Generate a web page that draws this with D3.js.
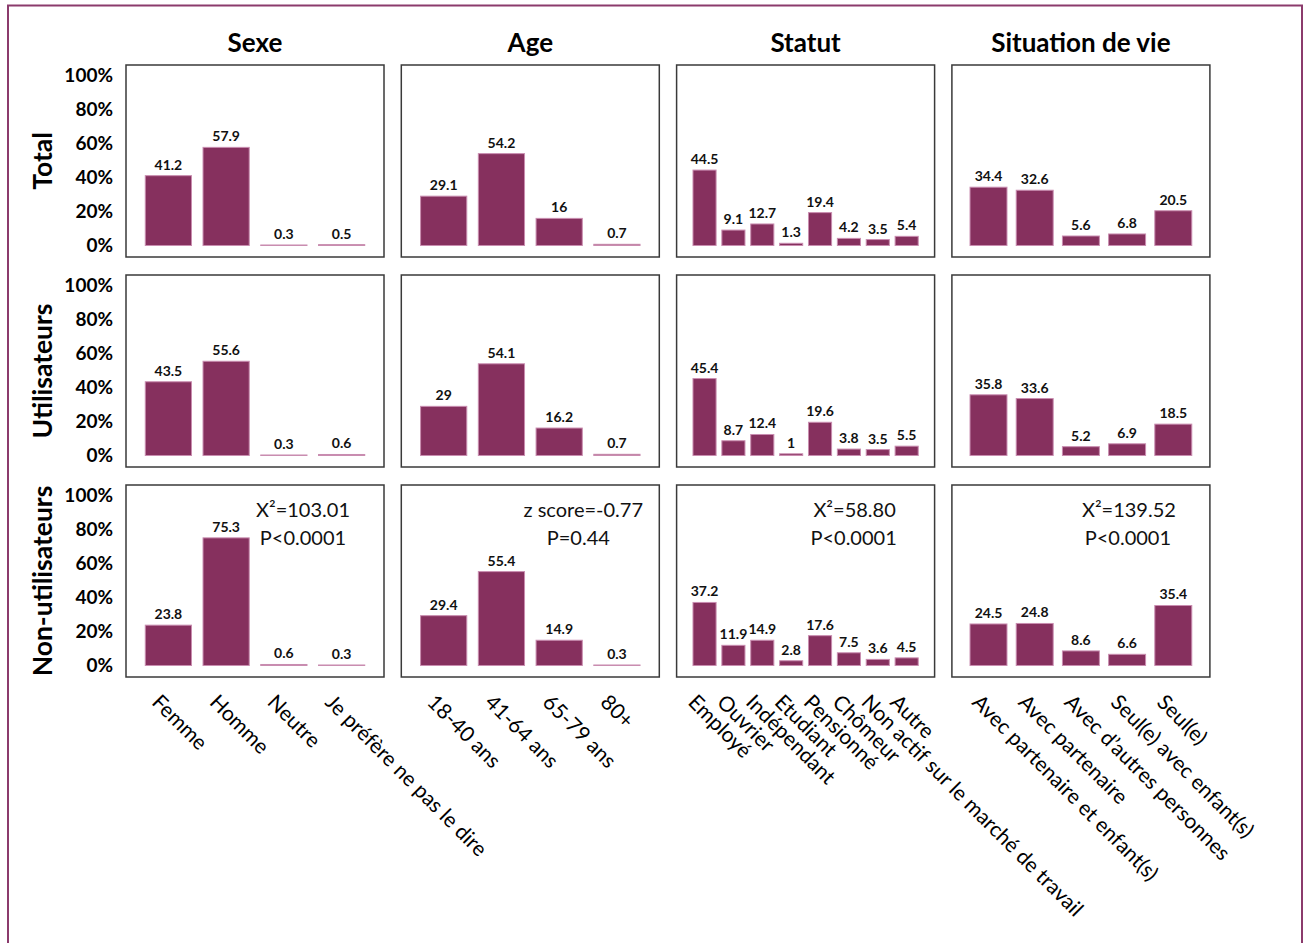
<!DOCTYPE html>
<html>
<head>
<meta charset="utf-8">
<script src="https://cdn.jsdelivr.net/npm/d3@7"></script>
<style>
  html, body { margin: 0; padding: 0; background: #fff; }
  svg { display: block; font-family: Lato, "Open Sans", sans-serif; }
</style>
</head>
<body>
<svg id="chart" width="1304" height="943"></svg>
<script>
// Column groups and their categories
const groupTitles = ["Sexe", "Age", "Statut", "Situation de vie"];
const rowTitles = ["Total", "Utilisateurs", "Non-utilisateurs"];

const sexeCategories = ["Femme", "Homme", "Neutre", "Je préfère ne pas le dire"];
const ageCategories = ["18-40 ans", "41-64 ans", "65-79 ans", "80+"];
const statutCategories = ["Employé", "Ouvrier", "Indépendant", "Etudiant", "Pensionné", "Chômeur", "Non actif sur le marché de travail", "Autre"];
const situationCategories = ["Avec partenaire et enfant(s)", "Avec partenaire", "Avec d’autres personnes", "Seul(e) avec enfant(s)", "Seul(e)"];

// Percentages per row (Total, Utilisateurs, Non-utilisateurs)
const sexeTotal = [41.2, 57.9, 0.3, 0.5];
const sexeUsers = [43.5, 55.6, 0.3, 0.6];
const sexeNonUsers = [23.8, 75.3, 0.6, 0.3];

const ageTotal = [29.1, 54.2, 16, 0.7];
const ageUsers = [29, 54.1, 16.2, 0.7];
const ageNonUsers = [29.4, 55.4, 14.9, 0.3];

const statutTotal = [44.5, 9.1, 12.7, 1.3, 19.4, 4.2, 3.5, 5.4];
const statutUsers = [45.4, 8.7, 12.4, 1, 19.6, 3.8, 3.5, 5.5];
const statutNonUsers = [37.2, 11.9, 14.9, 2.8, 17.6, 7.5, 3.6, 4.5];

const situationTotal = [34.4, 32.6, 5.6, 6.8, 20.5];
const situationUsers = [35.8, 33.6, 5.2, 6.9, 18.5];
const situationNonUsers = [24.5, 24.8, 8.6, 6.6, 35.4];

// Test statistics shown in the non-users row
const testStats = [
  ["X²=103.01", "P<0.0001"],
  ["z score=-0.77", "P=0.44"],
  ["X²=58.80", "P<0.0001"],
  ["X²=139.52", "P<0.0001"]
];

const yTicks = [0, 20, 40, 60, 80, 100];

const columns = [
  { categories: sexeCategories, rows: [sexeTotal, sexeUsers, sexeNonUsers] },
  { categories: ageCategories, rows: [ageTotal, ageUsers, ageNonUsers] },
  { categories: statutCategories, rows: [statutTotal, statutUsers, statutNonUsers] },
  { categories: situationCategories, rows: [situationTotal, situationUsers, situationNonUsers] }
];

// Layout
const panelX0 = 126, panelStepX = 275.3, panelW = 258;
const panelY0 = 65, panelStepY = 210, panelH = 192;
const innerTop = 11, innerBottom = 11.5;
const barColor = "#86305e";
const barEdge = "#c98db0";

const svg = d3.select("#chart");

// Outer frame
svg.append("path")
  .attr("d", "M8,950 V5.5 H1302 V950")
  .attr("fill", "none")
  .attr("stroke", "#8b3b6c")
  .attr("stroke-width", 2);

// Column titles
groupTitles.forEach((t, c) => {
  svg.append("text")
    .attr("x", panelX0 + c * panelStepX + panelW / 2)
    .attr("y", 52)
    .attr("text-anchor", "middle")
    .attr("font-size", 26)
    .attr("font-weight", 700)
    .attr("fill", "#000")
    .text(t);
});

rowTitles.forEach((rowName, r) => {
  const top = panelY0 + r * panelStepY;
  const y = d3.scaleLinear().domain([0, 100]).range([top + panelH - innerBottom, top + innerTop]);

  // Row label
  svg.append("text")
    .attr("transform", `translate(52,${top + panelH / 2}) rotate(-90)`)
    .attr("text-anchor", "middle")
    .attr("font-size", 26.5)
    .attr("font-weight", 700)
    .attr("fill", "#000")
    .text(rowName);

  // Y axis labels
  const axis = svg.append("g")
    .attr("transform", "translate(116,0)")
    .call(d3.axisLeft(y).tickValues(yTicks).tickFormat(d => d + "%").tickSize(0).tickPadding(3));
  axis.select(".domain").remove();
  axis.selectAll("text")
    .attr("font-family", "Lato, 'Open Sans', sans-serif")
    .attr("font-size", 19)
    .attr("font-weight", 700)
    .attr("fill", "#000")
    .attr("dy", "0.3em");

  columns.forEach((col, c) => {
    const left = panelX0 + c * panelStepX;
    const x = d3.scaleBand()
      .domain(col.categories)
      .range([left + 13.5, left + panelW - 13.5])
      .paddingInner(0.2)
      .paddingOuter(0.1);
    const values = col.rows[r];
    const g = svg.append("g");

    // Panel frame
    g.append("rect")
      .attr("x", left)
      .attr("y", top)
      .attr("width", panelW)
      .attr("height", panelH)
      .attr("fill", "#fff")
      .attr("stroke", "#3a3a3a")
      .attr("stroke-width", 1.5);

    // Bars
    g.selectAll("rect.bar")
      .data(values)
      .join("rect")
      .attr("class", "bar")
      .attr("x", (d, i) => x(col.categories[i]))
      .attr("width", x.bandwidth())
      .attr("y", d => y(d))
      .attr("height", d => y(0) - y(d))
      .attr("fill", barColor)
      .attr("stroke", barEdge)
      .attr("stroke-width", 1);

    // Value labels
    g.selectAll("text.val")
      .data(values)
      .join("text")
      .attr("class", "val")
      .attr("x", (d, i) => x(col.categories[i]) + x.bandwidth() / 2)
      .attr("y", d => y(d) - 6)
      .attr("text-anchor", "middle")
      .attr("font-size", 14)
      .attr("font-weight", 700)
      .attr("fill", "#111")
      .text(d => String(d));

    // Test statistics in the last row
    if (r === 2) {
      const offsets = [[177, 177], [182, 177], [178, 177], [177, 176]][c];
      testStats[c].forEach((line, k) => {
        g.append("text")
          .attr("x", left + offsets[k])
          .attr("y", top + 32 + k * 28)
          .attr("text-anchor", "middle")
          .attr("font-size", 20)
          .attr("fill", "#111")
          .text(line);
      });

      // Rotated category labels under the panels
      col.categories.forEach(cat => {
        const cx = x(cat) + x.bandwidth() / 2;
        svg.append("text")
          .attr("transform", `translate(${cx - 7},${top + panelH + 16}) rotate(45)`)
          .attr("dy", "0.71em")
          .attr("font-size", 21)
          .attr("fill", "#000")
          .text(cat);
      });
    }
  });
});
</script>
</body>
</html>
